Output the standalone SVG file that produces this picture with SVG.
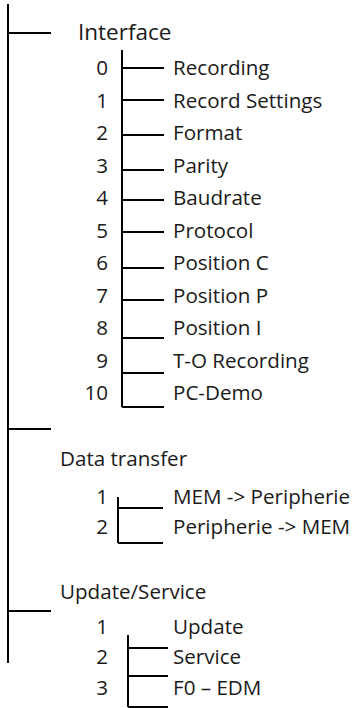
<svg xmlns="http://www.w3.org/2000/svg" width="355" height="708" viewBox="0 0 355 708">
<style>
  .ln { stroke: #000; stroke-width: 2; fill: none; stroke-linecap: butt; }
  .t { font-family: "Open Sans", "Noto Sans", "Liberation Sans", sans-serif; font-size: 20.6px; fill: #1a1a1a; }
  .num { text-anchor: end; }
  .big { font-size: 22.5px; }
</style>
<rect width="355" height="708" fill="#fff"/>
<g id="connectors">
  <path class="ln" d="M8,4 V663 M8,33 H51 M8,429 H51 M8,611 H51"/>
  <path class="ln" d="M122,50 V407 M122,68 H164 M122,100 H164 M122,135 H164 M122,170 H164 M122,200 H164 M122,232 H164 M122,268 H164 M122,300 H164 M122,338 H164 M122,373 H164 M122,407 H164"/>
  <path class="ln" d="M118,497 V543 M118,508 H163 M118,543 H163"/>
  <path class="ln" d="M128,635 V707 M128,648 H168 M128,676 H168 M128,707 H168"/>
</g>
<g id="interface">
  <text class="t big" x="78" y="40">Interface</text>
  <g id="if-items">
    <text class="t num" x="108" y="75">0</text><text class="t" x="173" y="75">Recording</text>
    <text class="t num" x="108" y="107.5">1</text><text class="t" x="173" y="107.5">Record Settings</text>
    <text class="t num" x="108" y="140">2</text><text class="t" x="173" y="140">Format</text>
    <text class="t num" x="108" y="172.5">3</text><text class="t" x="173" y="172.5">Parity</text>
    <text class="t num" x="108" y="205">4</text><text class="t" x="173" y="205">Baudrate</text>
    <text class="t num" x="108" y="237.5">5</text><text class="t" x="173" y="237.5">Protocol</text>
    <text class="t num" x="108" y="270">6</text><text class="t" x="173" y="270">Position C</text>
    <text class="t num" x="108" y="302.5">7</text><text class="t" x="173" y="302.5">Position P</text>
    <text class="t num" x="108" y="335">8</text><text class="t" x="173" y="335">Position I</text>
    <text class="t num" x="108" y="367.5">9</text><text class="t" x="173" y="367.5">T-O Recording</text>
    <text class="t num" x="108" y="400">10</text><text class="t" x="173" y="400">PC-Demo</text>
  </g>
</g>
<g id="data-transfer">
  <text class="t" x="60" y="466">Data transfer</text>
  <text class="t num" x="108" y="504">1</text><text class="t" x="173" y="504">MEM -&gt; Peripherie</text>
  <text class="t num" x="108" y="534">2</text><text class="t" x="173" y="534">Peripherie -&gt; MEM</text>
</g>
<g id="update-service">
  <text class="t" x="60" y="599">Update/Service</text>
  <text class="t num" x="108" y="634">1</text><text class="t" x="173" y="634">Update</text>
  <text class="t num" x="108" y="664">2</text><text class="t" x="173" y="664">Service</text>
  <text class="t num" x="108" y="695">3</text><text class="t" x="173" y="695">F0 – EDM</text>
</g>
</svg>
